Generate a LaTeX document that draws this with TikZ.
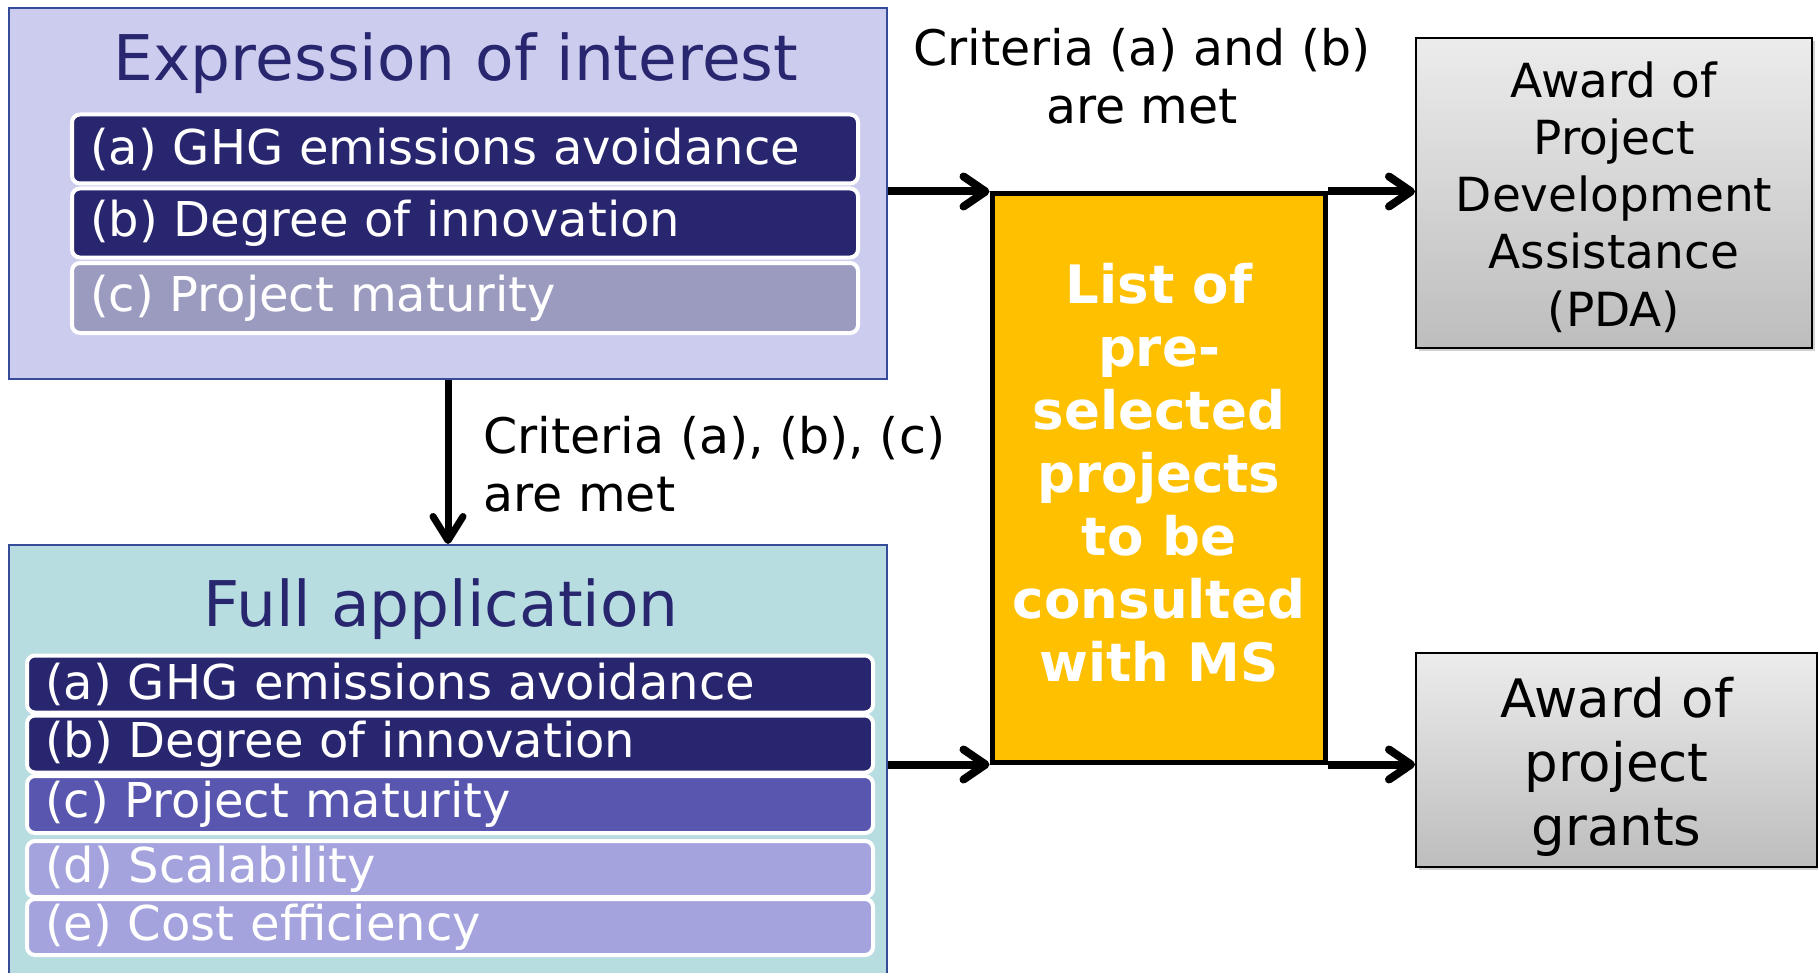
\documentclass[tikz,border=0pt]{standalone}
\usepackage{fontspec}
\setmainfont{DejaVu Sans}
\usetikzlibrary{arrows.meta,shadows}
\definecolor{lav}{RGB}{204,205,238}
\definecolor{tealbg}{RGB}{184,221,225}
\definecolor{navy}{RGB}{41,38,112}
\definecolor{grayc}{RGB}{155,155,192}
\definecolor{midc}{RGB}{88,86,174}
\definecolor{lightd}{RGB}{164,163,221}
\definecolor{yel}{RGB}{255,192,0}
\definecolor{bordblue}{RGB}{55,75,155}
\definecolor{gtop}{RGB}{236,236,236}
\definecolor{gbot}{RGB}{189,189,189}
\tikzset{
  bigbox/.style={draw=bordblue, line width=1pt, minimum width=439pt, inner sep=0pt},
  title/.style={text=navy, font=\fontsize{31.5}{36}\selectfont, anchor=base, inner sep=0pt},
  bar/.style={draw=white, line width=2pt, rounded corners=4pt, text=white, anchor=west,
    font=\fontsize{24}{28}\selectfont, align=left, inner xsep=9pt, inner ysep=0pt},
  graybox/.style={draw=black, line width=1pt, top color=gtop, bottom color=gbot,
    drop shadow={opacity=0.35, shadow xshift=1.5pt, shadow yshift=-1.5pt}, inner sep=0pt},
  boxtext/.style={align=center, inner sep=0pt},
  lbl/.style={font=\fontsize{24.5}{29}\selectfont, inner sep=0pt},
  arr/.style={line width=4pt, -{Straight Barb[length=11pt, width=15pt, round]}},
  varr/.style={line width=3.5pt, -{Straight Barb[length=12pt, width=15pt, round]}},
}
\begin{document}
\begin{tikzpicture}[x=0.5pt, y=-0.5pt]
\useasboundingbox (0,0) rectangle (1818,973);
\clip (0,0) rectangle (1818,973);
\fill[white] (0,0) rectangle (1818,973);
% Expression of interest
\node[bigbox, fill=lav, minimum height=185.5pt] (box1) at (448,193.5) {};
\node[title] (t1) at (456,81) {Expression of interest};
\node[bar, fill=navy, minimum height=34.5pt, text width=375pt] (e1) at (70,149) {(a) GHG emissions avoidance};
\node[bar, fill=navy, minimum height=34.5pt, text width=375pt] (e2) at (70,223) {(b) Degree of innovation};
\node[bar, fill=grayc, minimum height=35pt, text width=375pt] (e3) at (70,298) {(c) Project maturity};
% Full application
\node[bigbox, fill=tealbg, minimum height=220pt] (box2) at (448,765) {};
\node[title] (t2) at (441,626) {Full application};
\node[bar, fill=navy, minimum height=28.5pt, text width=405pt] (f1) at (25,684) {(a) GHG emissions avoidance};
\node[bar, fill=navy, minimum height=28.5pt, text width=405pt] (f2) at (25,744) {(b) Degree of innovation};
\node[bar, fill=midc, minimum height=28.5pt, text width=405pt] (f3) at (25,804.5) {(c) Project maturity};
\node[bar, fill=lightd, minimum height=28pt, text width=405pt] (f4) at (25,869) {(d) Scalability};
\node[bar, fill=lightd, minimum height=28pt, text width=405pt] (f5) at (25,927) {(e) Cost efficiency};
% Yellow list
\node[draw=black, line width=2.5pt, fill=yel, minimum width=166.5pt, minimum height=284pt,
  inner sep=0pt] (yel) at (1158.5,478) {};
\node[boxtext, text=white, font=\bfseries\fontsize{26.5}{31.5}\selectfont] (yeltext) at (1159,473)
  {List of\\pre-\\selected\\projects\\to be\\consulted\\with MS};
% Gray award boxes
\node[graybox, minimum width=198pt, minimum height=155pt] (pda) at (1614,193) {};
\node[boxtext, font=\fontsize{23.5}{28.6}\selectfont] (pdatext) at (1614,197)
  {Award of\\Project\\Development\\Assistance\\(PDA)};
\node[graybox, minimum width=200.5pt, minimum height=107pt] (grants) at (1616.5,760) {};
\node[boxtext, font=\fontsize{26.5}{32}\selectfont] (grantstext) at (1616.5,767)
  {Award of\\project\\grants};
% Labels
\node[lbl, align=center] (l1) at (1142,76) {Criteria (a) and (b)\\are met};
\node[lbl, align=left, anchor=west] (l2) at (483,464) {Criteria (a), (b), (c)\\are met};
% Arrows
\draw[varr] (box1.south) -- (box2.north);
\draw[arr] (box1.east |- yel.north west) -- (yel.north west);
\draw[arr] (box2.east |- yel.south west) -- (yel.south west);
\draw[arr] (yel.north east) -- (pda.west |- yel.north east);
\draw[arr] (yel.south east) -- (grants.west |- yel.south east);
\end{tikzpicture}
\end{document}
